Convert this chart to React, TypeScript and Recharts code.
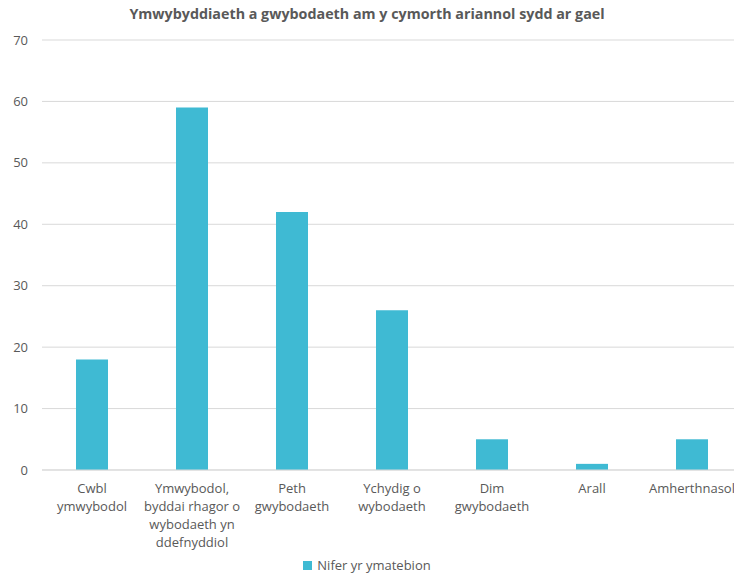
import React from "react";
import { BarChart, Bar, XAxis, YAxis, CartesianGrid } from "recharts";

const categories = [
  "Cwbl ymwybodol",
  "Ymwybodol, byddai rhagor o wybodaeth yn ddefnyddiol",
  "Peth gwybodaeth",
  "Ychydig o wybodaeth",
  "Dim gwybodaeth",
  "Arall",
  "Amherthnasol",
];
const tickLines: string[][] = [
  ["Cwbl", "ymwybodol"],
  ["Ymwybodol,", "byddai rhagor o", "wybodaeth yn", "ddefnyddiol"],
  ["Peth", "gwybodaeth"],
  ["Ychydig o", "wybodaeth"],
  ["Dim", "gwybodaeth"],
  ["Arall"],
  ["Amherthnasol"],
];
const responses = [18, 59, 42, 26, 5, 1, 5];
const yTicks = [0, 10, 20, 30, 40, 50, 60, 70];
const seriesName = "Nifer yr ymatebion";
const title = "Ymwybyddiaeth a gwybodaeth am y cymorth ariannol sydd ar gael";

const data = categories.map((c, i) => ({ name: c, value: responses[i], idx: i }));

const FONT = "'Open Sans', 'Liberation Sans', sans-serif";
const TEXT = "#595959";
const BAR = "#3FBAD3";

const XTick = (props: any) => {
  const { x, y, index } = props;
  const lines = tickLines[index] || [];
  return (
    <g transform={`translate(${x},${y})`}>
      {lines.map((l, i) => (
        <text
          key={i}
          x={0}
          y={i * 18 + 15}
          textAnchor="middle"
          fill={TEXT}
          fontSize={13}
          fontFamily={FONT}
        >
          {l}
        </text>
      ))}
    </g>
  );
};

export default function App() {
  return (
    <div
      style={{
        position: "absolute",
        left: 0,
        top: 0,
        width: 734,
        height: 575,
        overflow: "hidden",
        background: "#fff",
      }}
    >
      <div
        style={{
          position: "absolute",
          left: 0,
          top: 4,
          width: 734,
          textAlign: "center",
          fontFamily: FONT,
          fontWeight: 700,
          fontSize: 14.3,
          color: TEXT,
        }}
      >
        {title}
      </div>
      <BarChart
        width={742}
        height={575}
        data={data}
        margin={{ top: 40, right: 0, bottom: 0, left: 0 }}
      >
        <CartesianGrid vertical={false} stroke="#d9d9d9" />
        <XAxis
          dataKey="name"
          interval={0}
          tick={<XTick />}
          tickLine={false}
          axisLine={{ stroke: "#d9d9d9" }}
          height={105}
        />
        <YAxis
          domain={[0, 70]}
          ticks={yTicks}
          width={42}
          axisLine={false}
          tickLine={false}
          tickMargin={8}
          tick={{ fill: TEXT, fontSize: 13, fontFamily: FONT }}
        />
        <Bar dataKey="value" name={seriesName} fill={BAR} barSize={32} isAnimationActive={false} />
      </BarChart>
      <div
        style={{
          position: "absolute",
          left: 0,
          top: 556,
          width: 734,
          display: "flex",
          justifyContent: "center",
          alignItems: "center",
          fontFamily: FONT,
          fontSize: 13,
          color: TEXT,
        }}
      >
        <span style={{ width: 9, height: 9, background: BAR, display: "inline-block", marginRight: 5 }} />
        <span>{seriesName}</span>
      </div>
    </div>
  );
}
